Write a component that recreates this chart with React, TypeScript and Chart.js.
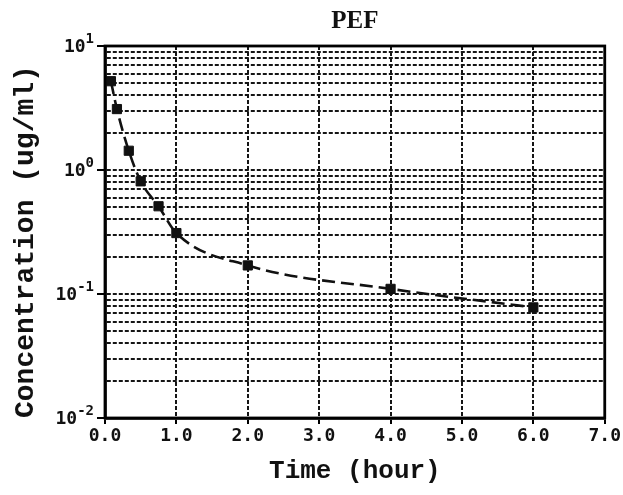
import React, { useEffect, useRef } from "react";
import { Chart, registerables } from "chart.js";

Chart.register(...registerables);

// ---- data ----
const titleText = "PEF";
const xTitle = "Time (hour)";
const yTitle = "Concentration (ug/ml)";
const times = [0.083, 0.167, 0.333, 0.5, 0.75, 1, 2, 4, 6];
const conc = [5.2, 3.1, 1.43, 0.81, 0.51, 0.31, 0.17, 0.11, 0.078];
const xTickLabels = ["0.0", "1.0", "2.0", "3.0", "4.0", "5.0", "6.0", "7.0"];
const yGridValues = [
  0.01, 0.02, 0.03, 0.04, 0.05, 0.06, 0.07, 0.08, 0.09,
  0.1, 0.2, 0.3, 0.4, 0.5, 0.6, 0.7, 0.8, 0.9,
  1, 2, 3, 4, 5, 6, 7, 8, 9,
  10,
];
const yMajorValues = [0.01, 0.1, 1, 10];
const yMajorExponents = ["-2", "-1", "0", "1"];

const isMajor = (v: number) => yMajorValues.some((m) => Math.abs(m - v) < 1e-12);

const GRID = "#151515";

const frameAndLabels = {
  id: "frameAndLabels",
  afterDraw(chart: any) {
    const { ctx, chartArea } = chart;
    const yScale = chart.scales.y;
    ctx.save();
    // outer frame
    ctx.strokeStyle = "#000";
    ctx.lineWidth = 2.8;
    ctx.setLineDash([]);
    ctx.strokeRect(chartArea.left, chartArea.top, chartArea.right - chartArea.left, chartArea.bottom - chartArea.top);
    // y tick labels: 10 with superscript exponent
    ctx.fillStyle = "#111";
    ctx.textBaseline = "middle";
    ctx.textAlign = "right";
    const rightEdge = chartArea.left - 11;
    yMajorValues.forEach((v, i) => {
      const y = yScale.getPixelForValue(v);
      ctx.font = "bold 14px 'DejaVu Sans Mono'";
      const exp = yMajorExponents[i];
      const w = ctx.measureText(exp).width;
      ctx.fillText(exp, rightEdge, y - 7);
      ctx.font = "bold 18px 'DejaVu Sans Mono'";
      ctx.fillText("10", rightEdge - w, y + 1);
    });
    ctx.restore();
  },
};

export default function App() {
  const ref = useRef<HTMLCanvasElement>(null);
  useEffect(() => {
    if (!ref.current) return;
    const chart = new Chart(ref.current, {
      type: "line",
      data: {
        datasets: [
          {
            data: times.map((t, i) => ({ x: t, y: conc[i] })),
            borderColor: "#111",
            borderWidth: 2.6,
            borderDash: [13, 6],
            cubicInterpolationMode: "monotone",
            pointStyle: "rect",
            pointRadius: 6.5,
            pointBackgroundColor: "#111",
            pointBorderColor: "#111",
            pointBorderWidth: 1,
            fill: false,
          },
        ],
      },
      options: {
        responsive: false,
        animation: false,
        layout: { padding: 0 },
        plugins: {
          legend: { display: false },
          tooltip: { enabled: false },
          title: {
            display: true,
            text: titleText,
            fullSize: false,
            color: "#111",
            font: { family: "'Liberation Serif'", size: 25, weight: "bold", lineHeight: 1.2 },
            padding: { top: 7, bottom: 9 },
          },
        },
        scales: {
          x: {
            type: "linear",
            min: 0,
            max: 7,
            ticks: {
              stepSize: 1,
              autoSkip: false,
              maxRotation: 0,
              padding: 2,
              color: "#111",
              font: { family: "'DejaVu Sans Mono'", size: 18, weight: "bold" },
              callback: (_v: any, i: number) => xTickLabels[i],
            },
            grid: {
              color: GRID,
              lineWidth: 2,
              drawTicks: true,
              tickLength: 6,
              tickColor: "#000",
              tickWidth: 2,
            },
            border: { display: true, color: "#000", width: 2.8, dash: [4, 2] },
            title: {
              display: true,
              text: xTitle,
              color: "#111",
              font: { family: "'Liberation Mono'", size: 26, weight: "bold", lineHeight: 1.2 },
              padding: { top: 0, bottom: 8 },
            },
            afterFit: (scale: any) => {
              scale.height = 77;
            },
          },
          y: {
            type: "logarithmic",
            min: 0.01,
            max: 10,
            afterBuildTicks: (scale: any) => {
              scale.ticks = yGridValues.map((v) => ({ value: v, major: isMajor(v) }));
            },
            ticks: {
              autoSkip: false,
              callback: () => "",
            },
            grid: {
              color: GRID,
              lineWidth: 2,
              drawTicks: true,
              tickLength: 8,
              tickColor: (c: any) => (c.tick && isMajor(c.tick.value) ? "#000" : "rgba(0,0,0,0)"),
              tickWidth: 2,
            },
            border: { display: true, color: "#000", width: 2.8, dash: [4, 2] },
            title: {
              display: true,
              text: yTitle,
              align: "start",
              color: "#111",
              font: { family: "'Liberation Mono'", size: 28, weight: "bold", lineHeight: 1.2 },
              padding: { top: 9, bottom: 0 },
            },
            afterFit: (scale: any) => {
              scale.width = 105;
            },
          },
        },
      },
      plugins: [frameAndLabels],
    });
    return () => chart.destroy();
  }, []);
  return (
    <canvas
      ref={ref}
      width={623}
      height={495}
      style={{ position: "absolute", left: 0, top: 0, display: "block", background: "#fff" }}
    />
  );
}
